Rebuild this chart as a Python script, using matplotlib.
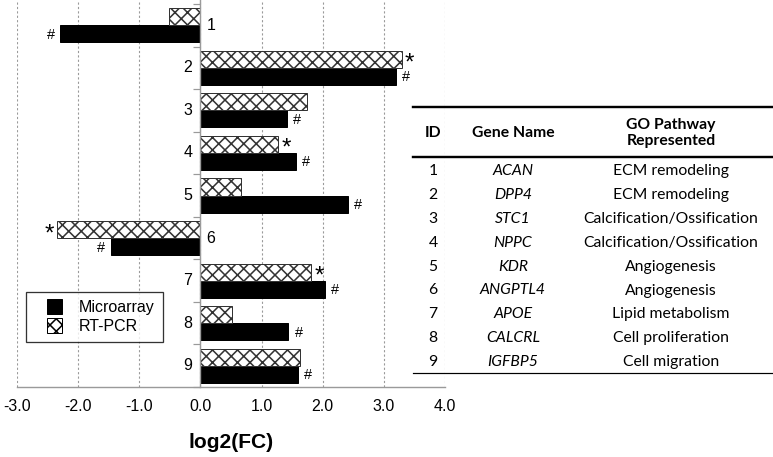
import matplotlib
matplotlib.use('Agg')
import matplotlib.pyplot as plt
from matplotlib.patches import Patch, Rectangle
from matplotlib.lines import Line2D
from matplotlib.legend_handler import HandlerPatch
import numpy as np

# ---------------- data ----------------
ids = [1, 2, 3, 4, 5, 6, 7, 8, 9]
microarray = [-2.30, 3.20, 1.42, 1.56, 2.42, -1.47, 2.03, 1.44, 1.60]
rtpcr = [-0.51, 3.29, 1.75, 1.27, 0.66, -2.34, 1.81, 0.51, 1.63]
micro_marks = ['#', '#', '#', '#', '#', '#', '#', '#', '#']
rt_marks = ['', '*', '', '*', '', '*', '*', '', '']
genes = ['ACAN', 'DPP4', 'STC1', 'NPPC', 'KDR', 'ANGPTL4', 'APOE', 'CALCRL', 'IGFBP5']
pathways = ['ECM remodeling', 'ECM remodeling', 'Calcification/Ossification',
            'Calcification/Ossification', 'Angiogenesis', 'Angiogenesis',
            'Lipid metabolism', 'Cell proliferation', 'Cell migration']
xticks = [-3.0, -2.0, -1.0, 0.0, 1.0, 2.0, 3.0, 4.0]
xtick_labels = ['-3.0', '-2.0', '-1.0', '0.0', '1.0', '2.0', '3.0', '4.0']
legend_labels = ['Microarray', 'RT-PCR']
table_headers = ['ID', 'Gene Name', 'GO Pathway\nRepresented']

# ---------------- figure ----------------
W, H, DPI = 773, 457, 150
plt.rcParams['hatch.linewidth'] = 0.75
fig = plt.figure(figsize=(W / DPI, H / DPI), dpi=DPI)


def pt(px):
    return px * 72.0 / DPI


def fx(x):
    return x / W


def fy(y):
    return 1 - y / H


CHART_FONT = 'Liberation Sans'
TABLE_FONT = 'Lato'
GRID = '#9a9a9a'
HATCH = 'xxxx'

ax = fig.add_axes([fx(17), fy(387), (445 - 17) / W, 387 / H])
y = np.arange(len(ids))
bh = 0.4
ax.barh(y + bh / 2, microarray, height=bh, color='black', edgecolor='black',
        linewidth=pt(1), zorder=3)
ax.barh(y - bh / 2, rtpcr, height=bh, color='white', edgecolor='#333333',
        hatch=HATCH, linewidth=pt(1), zorder=3)

ax.set_xlim(-3, 4)
ax.set_ylim(8.5, -0.5 - 4 / 42.55)
ax.set_xticks(xticks)
ax.set_xticklabels(xtick_labels, fontfamily=CHART_FONT, fontsize=pt(16))
ax.tick_params(axis='x', length=0, pad=pt(12))
ax.set_yticks(np.arange(-0.5, 9.0, 1.0))
ax.set_yticklabels([])
ax.tick_params(axis='y', direction='out', length=pt(7), color=GRID, width=pt(1.2))
ax.xaxis.grid(True, linestyle=(0, (2, 2)), color=GRID, linewidth=pt(1.1))
ax.set_axisbelow(True)
for s in ['top', 'right']:
    ax.spines[s].set_visible(False)
ax.spines['left'].set_position(('data', 0))
ax.spines['left'].set_color(GRID)
ax.spines['left'].set_linewidth(pt(1.4))
ax.spines['left'].set_zorder(4)
ax.spines['bottom'].set_color(GRID)
ax.spines['bottom'].set_linewidth(pt(1.4))
ax.set_xlabel('log2(FC)', fontfamily=CHART_FONT, fontsize=pt(21),
              fontweight='bold', labelpad=pt(19))

# category labels and significance marks
for i in range(len(ids)):
    if microarray[i] < 0:
        ax.text(0.1, i, str(ids[i]), ha='left', va='center',
                fontfamily=CHART_FONT, fontsize=pt(16))
    else:
        ax.text(-0.13, i, str(ids[i]), ha='right', va='center',
                fontfamily=CHART_FONT, fontsize=pt(16))
    m = microarray[i]
    if micro_marks[i]:
        ax.annotate(micro_marks[i], (m, i + bh / 2),
                    xytext=(pt(6) if m > 0 else -pt(5), pt(-1)),
                    textcoords='offset points', ha='left' if m > 0 else 'right',
                    va='center', fontfamily=CHART_FONT, fontsize=pt(14.5))
    r = rtpcr[i]
    if rt_marks[i]:
        ax.annotate(rt_marks[i], (r, i - bh / 2),
                    xytext=(pt(3) if r > 0 else -pt(3), pt(-2)),
                    textcoords='offset points', ha='left' if r > 0 else 'right',
                    va='center_baseline', fontfamily=CHART_FONT, fontsize=pt(24))


# legend
def square(legend, orig_handle, xdescent, ydescent, width, height, fontsize):
    s = pt(15)
    return Rectangle((-xdescent + width / 2 - s / 2, -ydescent + height / 2 - s / 2), s, s)


handles = [Patch(facecolor='black', edgecolor='black', linewidth=pt(1)),
           Patch(facecolor='white', edgecolor='black', hatch=HATCH, linewidth=pt(1))]
leg = fig.legend(handles, legend_labels, loc='upper left',
                 bbox_to_anchor=(fx(26), fy(292)), bbox_transform=fig.transFigure,
                 borderaxespad=0, frameon=True, fancybox=False,
                 prop={'family': CHART_FONT, 'size': pt(16)},
                 handlelength=2.6, handleheight=0.9, handletextpad=0.22,
                 borderpad=0.5, labelspacing=0.25,
                 handler_map={Patch: HandlerPatch(patch_func=square)})
leg.get_frame().set_edgecolor('black')
leg.get_frame().set_linewidth(pt(1.3))

# table
tf = fig.transFigure
fig.add_artist(Line2D([fx(413), fx(773)], [fy(107), fy(107)], transform=tf,
                      color='black', linewidth=pt(2.4)))
fig.add_artist(Line2D([fx(413), fx(773)], [fy(157), fy(157)], transform=tf,
                      color='black', linewidth=pt(2.4)))
fig.add_artist(Line2D([fx(413), fx(773)], [fy(373), fy(373)], transform=tf,
                      color='black', linewidth=pt(1.2)))
col_x = [433, 513, 671]
fs_t = pt(15.8)
fig.text(fx(col_x[0]), fy(133), table_headers[0], ha='center', va='center',
         fontfamily=TABLE_FONT, fontweight='bold', fontsize=fs_t)
fig.text(fx(col_x[1]), fy(133), table_headers[1], ha='center', va='center',
         fontfamily=TABLE_FONT, fontweight='bold', fontsize=fs_t)
fig.text(fx(col_x[2]), fy(133), table_headers[2], ha='center', va='center',
         fontfamily=TABLE_FONT, fontweight='bold', fontsize=fs_t, linespacing=1.25)
for i in range(len(ids)):
    yy = fy(171 + i * 23.9)
    fig.text(fx(col_x[0]), yy, str(ids[i]), ha='center', va='center',
             fontfamily=TABLE_FONT, fontsize=fs_t)
    fig.text(fx(col_x[1]), yy, genes[i], ha='center', va='center',
             fontfamily=TABLE_FONT, fontstyle='italic', fontsize=fs_t)
    fig.text(fx(col_x[2]), yy, pathways[i], ha='center', va='center',
             fontfamily=TABLE_FONT, fontsize=fs_t)

fig.savefig('out.png', dpi=DPI)
